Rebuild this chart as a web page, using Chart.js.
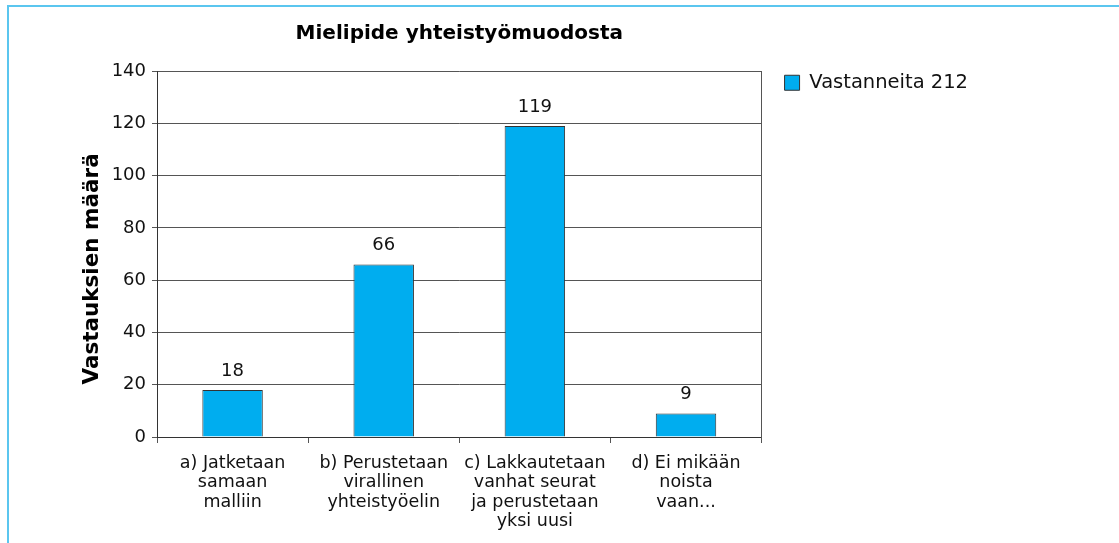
<!DOCTYPE html>
<html>
<head>
<meta charset="utf-8">
<script src="https://cdn.jsdelivr.net/npm/chart.js@4/dist/chart.umd.min.js"></script>
<style>
  body { margin: 0; background: #fff; }
  #wrap { position: relative; width: 1119px; height: 543px; }
  #frame {
    position: absolute; left: 7px; top: 5px; right: 0; bottom: 0;
    border-top: 2px solid #5bc6ef; border-left: 2px solid #5bc6ef;
    pointer-events: none;
  }
</style>
</head>
<body>
<div id="wrap">
  <canvas id="chart" width="1119" height="543"></canvas>
  <div id="frame"></div>
</div>
<script>
const categories = [
    ["a) Jatketaan", "samaan", "malliin"],
    ["b) Perustetaan", "virallinen", "yhteistyöelin"],
    ["c) Lakkautetaan", "vanhat seurat", "ja perustetaan", "yksi uusi"],
    ["d) Ei mikään", "noista", "vaan..."]
];
const seriesName = "Vastanneita 212";
const answers = [18, 66, 119, 9];
const yTicks = [0, 20, 40, 60, 80, 100, 120, 140];

const fontFamily = "'DejaVu Sans', sans-serif";

// value labels above bars
const valueLabels = {
    id: 'valueLabels',
    afterDatasetsDraw(chart) {
        const ctx = chart.ctx;
        const meta = chart.getDatasetMeta(0);
        ctx.save();
        ctx.font = "18px " + fontFamily;
        ctx.fillStyle = "#111";
        ctx.textAlign = "center";
        ctx.textBaseline = "bottom";
        meta.data.forEach((bar, i) => {
            ctx.fillText(chart.data.datasets[0].data[i], bar.x, bar.y - 10);
        });
        ctx.restore();
    }
};

new Chart(document.getElementById('chart'), {
    type: 'bar',
    data: {
        labels: categories,
        datasets: [{
            label: seriesName,
            data: answers,
            backgroundColor: '#00adef',
            borderColor: '#333',
            borderWidth: 1,
            categoryPercentage: 1,
            barPercentage: 0.4
        }]
    },
    options: {
        responsive: false,
        animation: false,
        layout: { padding: { left: 80, top: 10, right: 141, bottom: 0 } },
        plugins: {
            title: {
                display: true,
                text: "Mielipide yhteistyömuodosta",
                fullSize: false,
                color: '#000',
                font: { family: fontFamily, size: 20, weight: 'bold' },
                padding: { top: 12, bottom: 25 }
            },
            legend: {
                position: 'right',
                align: 'start',
                fullSize: false,
                maxWidth: 260,
                labels: {
                    boxWidth: 15,
                    boxHeight: 15,
                    padding: 2,
                    color: '#111',
                    font: { family: fontFamily, size: 19.5 }
                }
            },
            tooltip: { enabled: false }
        },
        scales: {
            x: {
                grid: { drawOnChartArea: false, tickLength: 6, color: '#555' },
                border: { color: '#333' },
                ticks: {
                    color: '#111',
                    padding: 11,
                    maxRotation: 0,
                    autoSkip: false,
                    font: { family: fontFamily, size: 17.5, lineHeight: 1.1 }
                },
                afterFit(scale) { scale.height = 106; }
            },
            y: {
                min: 0,
                max: 140,
                afterBuildTicks(scale) { scale.ticks = yTicks.map(v => ({ value: v })); },
                grid: { color: '#555', tickLength: 5 },
                border: { color: '#333' },
                ticks: {
                    color: '#111',
                    padding: 6,
                    font: { family: fontFamily, size: 18 }
                },
                title: {
                    display: true,
                    text: "Vastauksien määrä\u00a0\u00a0\u00a0\u00a0",
                    color: '#000',
                    padding: 0,
                    font: { family: fontFamily, size: 21.5, weight: 'bold' }
                },
                afterFit(scale) { scale.width = 77; }
            },
            y2: {
                position: 'right',
                min: 0,
                max: 140,
                grid: { display: false },
                ticks: { display: false },
                border: { display: true, color: '#555' },
                afterFit(scale) { scale.width = 21; }
            }
        }
    },
    plugins: [valueLabels]
});
</script>
</body>
</html>
